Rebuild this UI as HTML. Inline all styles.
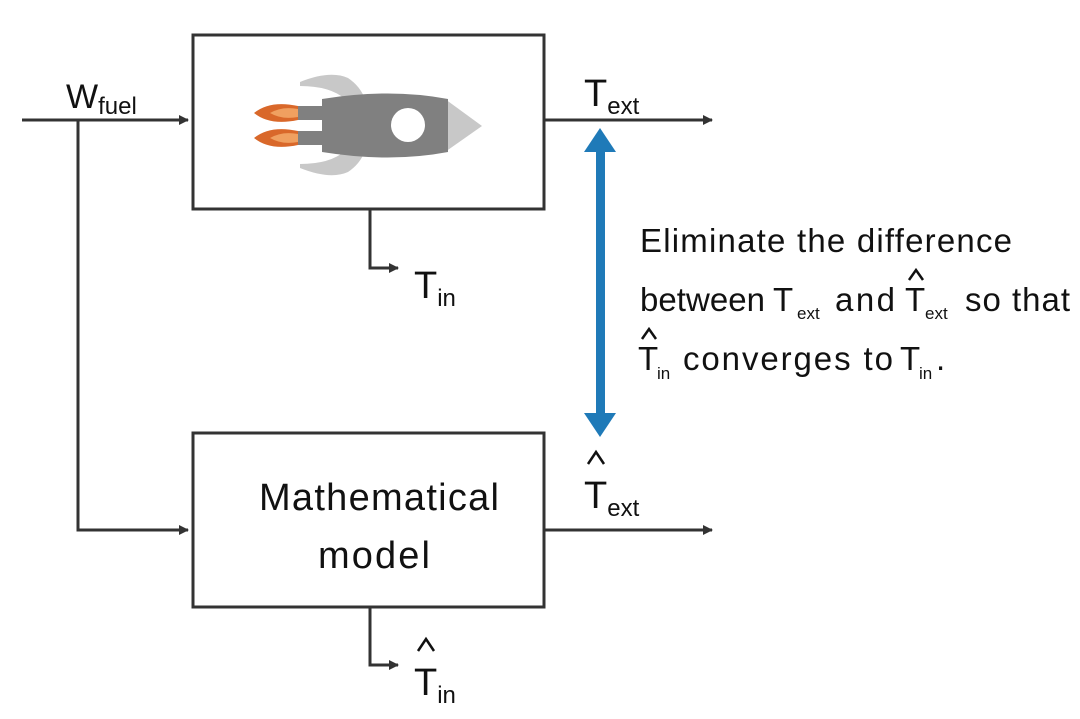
<!DOCTYPE html>
<html><head><style>
body{margin:0;background:#fff;width:1080px;height:714px;overflow:hidden}
svg text{font-family:"Liberation Sans",sans-serif;fill:#111}
</style></head><body>
<svg width="1080" height="714" viewBox="0 0 1080 714">
<defs>
<marker id="a" markerWidth="10" markerHeight="10" refX="9" refY="5" orient="auto" markerUnits="userSpaceOnUse"><path d="M0,0 L10,5 L0,10 z" fill="#333"/></marker>
</defs>
<g stroke="#333" stroke-width="3" fill="none">
<rect x="193" y="35" width="351" height="174"/>
<rect x="193" y="433" width="351" height="174"/>
<line x1="22" y1="120" x2="188" y2="120" marker-end="url(#a)"/>
<polyline points="78,120 78,530 188,530" marker-end="url(#a)"/>
<line x1="544" y1="120" x2="712" y2="120" marker-end="url(#a)"/>
<line x1="544" y1="530" x2="712" y2="530" marker-end="url(#a)"/>
<polyline points="370,209 370,268 398,268" marker-end="url(#a)"/>
<polyline points="370,607 370,665 398,665" marker-end="url(#a)"/>
</g>
<rect x="596" y="150" width="9" height="265" fill="#1f7ab8"/>
<path d="M600,128 L616,152 L584,152 z" fill="#1f7ab8"/>
<path d="M600,437 L616,413 L584,413 z" fill="#1f7ab8"/>
<!-- rocket -->
<path d="M300,82 Q330,70 348,78 Q360,86 365,99 L345,99 Q330,86 300,86 z" fill="#c8c8c8"/>
<path d="M300,168 Q330,180 348,172 Q360,164 365,151 L345,151 Q330,164 300,164 z" fill="#c8c8c8"/>
<path d="M445,99 L482,126 L445,152 z" fill="#c8c8c8"/>
<path d="M322,99 Q390,88 448,99 L448,152 Q390,163 322,152 z" fill="#808080"/>
<circle cx="408" cy="125" r="17" fill="#fff"/>
<rect x="298" y="106" width="24" height="14" fill="#808080"/>
<rect x="298" y="131" width="24" height="14" fill="#808080"/>
<path d="M254,113 Q270,100 298,106 L298,120 Q270,126 254,113 z" fill="#d9682a"/>
<path d="M254,138 Q270,125 298,131 L298,145 Q270,151 254,138 z" fill="#d9682a"/>
<path d="M270,113 Q282,106 298,109 L298,117 Q282,120 270,113 z" fill="#f0a060"/>
<path d="M270,138 Q282,131 298,134 L298,142 Q282,145 270,138 z" fill="#f0a060"/>
<!-- labels -->
<text x="66" y="108" font-size="34">W<tspan font-size="24" dy="6">fuel</tspan></text>
<text x="584" y="106" font-size="38">T<tspan font-size="24" dy="8">ext</tspan></text>
<text x="414" y="298" font-size="38">T<tspan font-size="24" dy="8">in</tspan></text>
<text x="584" y="508" font-size="38">T<tspan font-size="24" dy="8">ext</tspan></text>
<text x="414" y="695" font-size="38">T<tspan font-size="24" dy="8">in</tspan></text>
<g stroke="#111" stroke-width="2.5" fill="none">
<polyline points="588,464 596,452 604,464"/>
<polyline points="418,651 426,639 434,651"/>
<polyline points="909,280 916,270 923,280"/>
<polyline points="642,339 649,329 656,339"/>
</g>
<text x="259" y="510" font-size="38" textLength="240">Mathematical</text>
<text x="318" y="568" font-size="38" textLength="112">model</text>
<g font-size="33">
<text x="640" y="252" textLength="372">Eliminate the difference</text>
<text x="640" y="311" textLength="125">between</text>
<text x="773" y="311">T</text>
<text x="797" y="319" font-size="17">ext</text>
<text x="835" y="311" textLength="60">and</text>
<text x="905" y="311">T</text>
<text x="925" y="319" font-size="17">ext</text>
<text x="965" y="311" textLength="105">so that</text>
<text x="638" y="370">T</text>
<text x="657" y="379" font-size="17">in</text>
<text x="683" y="370" textLength="210">converges to</text>
<text x="900" y="370">T</text>
<text x="919" y="379" font-size="17">in</text>
<text x="936" y="370">.</text>
</g>
</svg>
</body></html>
